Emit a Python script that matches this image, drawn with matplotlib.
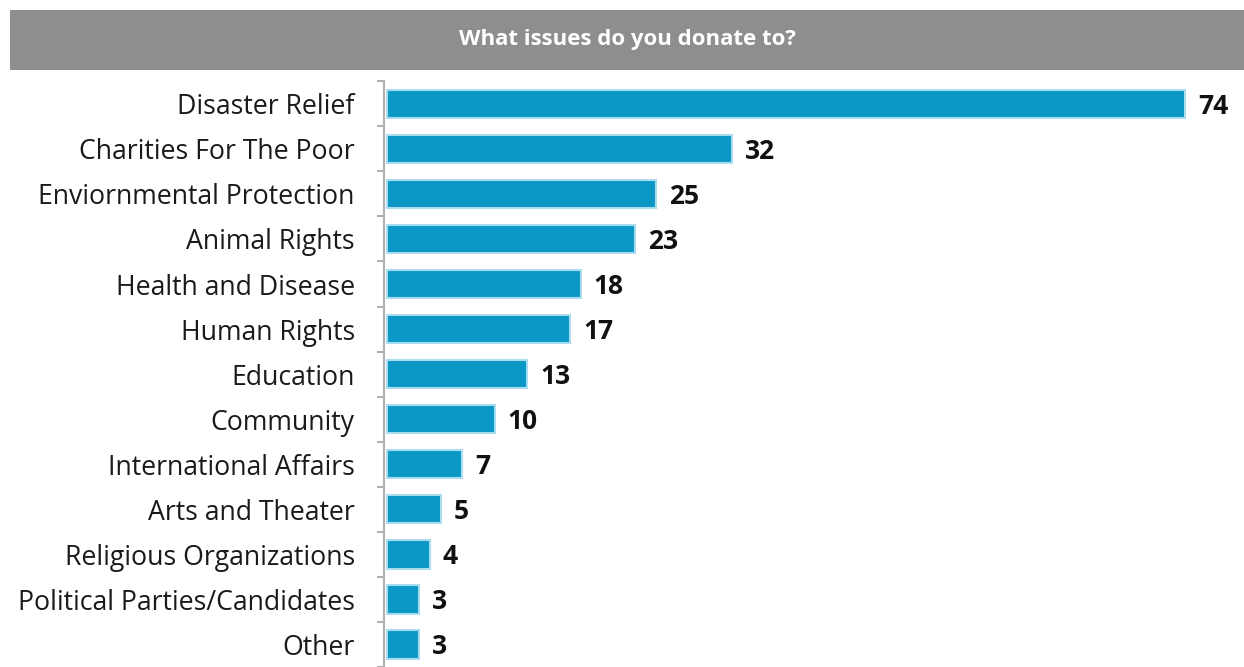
import matplotlib.pyplot as plt
from matplotlib.patches import Rectangle
import numpy as np

categories = ["Disaster Relief", "Charities For The Poor", "Enviornmental Protection",
              "Animal Rights", "Health and Disease", "Human Rights", "Education",
              "Community", "International Affairs", "Arts and Theater",
              "Religious Organizations", "Political Parties/Candidates", "Other"]
values = [74, 32, 25, 23, 18, 17, 13, 10, 7, 5, 4, 3, 3]
title = "What issues do you donate to?"

W, H = 1244, 667
fig = plt.figure(figsize=(W / 100, H / 100), dpi=100)

# grey title banner
fig.patches.append(Rectangle((10 / W, 1 - 70 / H), 1 - 10 / W, 60 / H,
                             transform=fig.transFigure, facecolor="#8e8e8e",
                             edgecolor="none", zorder=0))
fig.text((10 + W) / 2 / W, 1 - 39 / H, title, color="white", fontsize=16,
         fontweight="bold", family="Open Sans", ha="center", va="center")

ax_left = 384 / W
ax_top = 81.25 / H
ax = fig.add_axes([ax_left, 0, 1 - ax_left, 1 - ax_top])

y = np.arange(len(categories))
ax.barh(y, values, height=0.63, color="#0b98c7", edgecolor="#a9dcee",
        linewidth=1.5, left=0.1)
for yi, v in zip(y, values):
    ax.text(v + 1.3, yi + 0.05, str(v), va="center", ha="left", fontsize=19,
            fontweight="bold", family="Open Sans", color="#111111")

px_per_unit = (1186 - 386) / 74
row_px = (648 - 104) / 12
ax.set_xlim(-0.15, (W - 384) / px_per_unit)
ax.set_ylim(-0.5 + (H - 81.25) / row_px, -0.5)

ax.set_yticks(y)
ax.set_yticklabels(categories, fontsize=19.2, family="Open Sans", color="#1a1a1a")
ax.set_yticks(np.arange(-0.5, len(categories), 1), minor=True)
ax.tick_params(axis="y", which="major", length=0, pad=21)
ax.tick_params(axis="y", which="minor", length=5, width=1.5, color="#b0b0b0")
ax.set_xticks([])

for s in ["top", "right", "bottom"]:
    ax.spines[s].set_visible(False)
ax.spines["left"].set_color("#b0b0b0")
ax.spines["left"].set_linewidth(1.5)

fig.savefig("out.png", dpi=100)
